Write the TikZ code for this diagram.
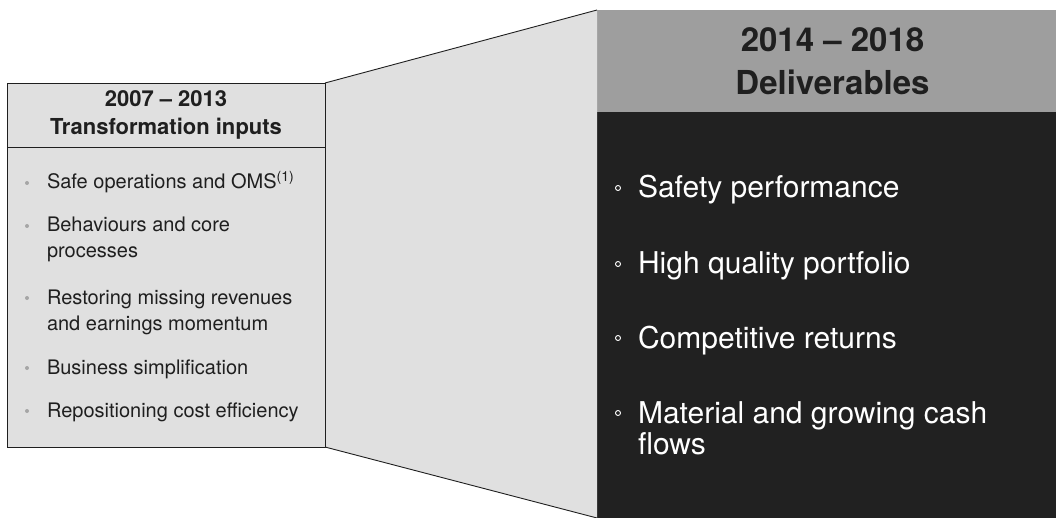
\documentclass[tikz,border=0pt]{standalone}
\usepackage{fontspec}
\setmainfont{TeX Gyre Heros}
\usetikzlibrary{positioning}

\definecolor{panelgray}{gray}{0.88}
\definecolor{headgray}{gray}{0.62}
\definecolor{darkbody}{gray}{0.13}
\definecolor{inktext}{gray}{0.12}

\begin{document}
\begin{tikzpicture}[
  x=1pt, y=-1pt,
  every node/.style={inner sep=0pt, outer sep=0pt},
  panel/.style={draw=inktext, line width=0.9pt, fill=panelgray, minimum width=318pt},
  dbox/.style={fill=darkbody, minimum width=459pt},
  hbox/.style={fill=headgray, minimum width=459pt},
  headtxt/.style={font=\fontsize{22}{28}\selectfont\bfseries, text=inktext, align=center},
  bigtxt/.style={font=\fontsize{33}{43}\selectfont\bfseries, text=inktext, align=center},
  lefttxt/.style={anchor=base west, align=left, font=\fontsize{20}{26}\selectfont, text=inktext},
  righttxt/.style={anchor=base west, align=left, font=\fontsize{30}{31}\selectfont, text=white},
  lbul/.style={circle, fill=gray!70, minimum size=4pt},
  rbul/.style={circle, draw=white, line width=0.9pt, minimum size=5pt}
]
\useasboundingbox (0,0) rectangle (1056,518);

% left box
\node[panel, minimum height=64pt] (hdrL) at (166,115) {};
\node[panel, minimum height=300pt, anchor=north] (bodyL) at (hdrL.south) {};
\node[headtxt] (hdrLtxt) at (hdrL.center) {2007 – 2013\\Transformation inputs};

% right box
\node[hbox, minimum height=102pt, anchor=north west] (hdrR) at (597,10) {};
\node[dbox, minimum height=406pt, anchor=north] (bodyR) at (hdrR.south) {};
\node[bigtxt] (hdrRtxt) at ([xshift=6pt]hdrR.center) {2014 – 2018\\Deliverables};

% zoom wedge between the boxes
\fill[panelgray] (hdrL.north east) -- (hdrR.north west) -- (bodyR.south west) -- (bodyL.south east) -- cycle;
\draw[inktext, line width=0.9pt] (hdrL.north east) -- (hdrR.north west);
\draw[inktext, line width=0.9pt] (bodyL.south east) -- (bodyR.south west);
\draw[inktext, line width=0.9pt] (hdrL.north east) -- (bodyL.south east);

% inputs (base = last line)
\node[lbul] (b1) at (27,183) {};
\node[lefttxt] (i1) at (47,189) {Safe operations and OMS\textsuperscript{(1)}};
\node[lbul] (b2) at (27,226) {};
\node[lefttxt] (i2) at (47,258) {Behaviours and core\\processes};
\node[lbul] (b3) at (27,298) {};
\node[lefttxt] (i3) at (47,330) {Restoring missing revenues\\and earnings momentum};
\node[lbul] (b4) at (27,368) {};
\node[lefttxt] (i4) at (47,374) {Business simplification};
\node[lbul] (b5) at (27,411) {};
\node[lefttxt] (i5) at (47,417) {Repositioning cost efficiency};

% deliverables
\node[rbul] (d1b) at (618,188) {};
\node[righttxt] (d1) at (638,198) {Safety performance};
\node[rbul] (d2b) at (618,264) {};
\node[righttxt] (d2) at (638,274) {High quality portfolio};
\node[rbul] (d3b) at (618,338) {};
\node[righttxt] (d3) at (638,348) {Competitive returns};
\node[rbul] (d4b) at (618,413) {};
\node[righttxt] (d4) at (638,454) {Material and growing cash\\flows};

\end{tikzpicture}
\end{document}
